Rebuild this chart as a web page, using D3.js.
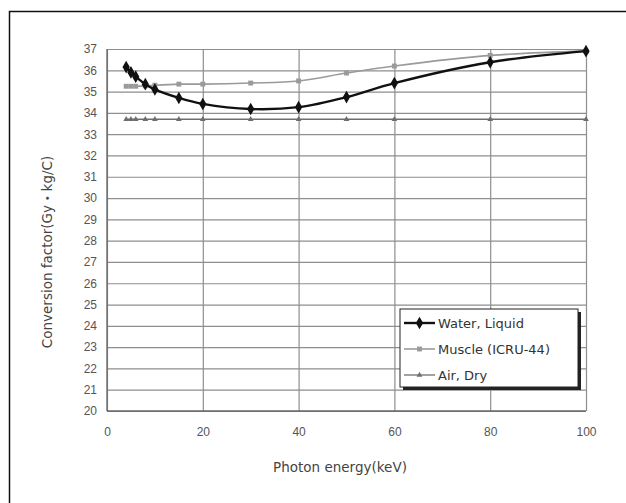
<!DOCTYPE html>
<html>
<head>
<meta charset="utf-8">
<script src="https://cdn.jsdelivr.net/npm/d3@7"></script>
<style>
  body { margin: 0; background: #fff; }
  svg { display: block; font-family: "DejaVu Sans", "Noto Sans CJK JP", sans-serif; }
</style>
</head>
<body>
<div class="chart"></div>
<script>
let w = 626, h = 503;

// photon energies (keV)
let energies = [4, 5, 6, 8, 10, 15, 20, 30, 40, 50, 60, 80, 100];
let waterValues = [36.15, 35.9, 35.7, 35.35, 35.1, 34.7, 34.42, 34.18, 34.27, 34.74, 35.4, 36.38, 36.9];
let muscleValues = [35.25, 35.25, 35.25, 35.27, 35.3, 35.35, 35.35, 35.4, 35.5, 35.87, 36.2, 36.7, 36.9];
let airValues = [33.7, 33.7, 33.7, 33.7, 33.7, 33.7, 33.7, 33.7, 33.7, 33.7, 33.7, 33.7, 33.7];
let seriesNames = ['Water, Liquid', 'Muscle (ICRU-44)', 'Air, Dry'];
let xTicks = [0, 20, 40, 60, 80, 100];
let yTicks = d3.range(20, 38);

let svg = d3.select('.chart').append('svg').attr('width', w).attr('height', h);

// outer frame (only left and top edges visible)
svg.append('path')
  .attr('d', 'M9.5,' + h + 'V11.5H' + (w + 2))
  .attr('fill', 'none')
  .attr('stroke', '#111')
  .attr('stroke-width', 1.5);

let plotL = 107, plotR = 586, plotT = 49, plotB = 411;

let xScale = d3.scaleLinear().domain([0, 100]).range([plotL, plotR]);
let yScale = d3.scaleLinear().domain([20, 37]).range([plotB, plotT]);

/* ==== GRID ==== */
svg.append('g')
  .attr('transform', 'translate(0,' + plotB + ')')
  .call(d3.axisBottom(xScale).tickValues(xTicks).tickSize(-(plotB - plotT)).tickFormat(''))
  .call(g => g.select('.domain').remove())
  .selectAll('line').attr('stroke', '#8e8e8e').attr('stroke-width', 1.2);

svg.append('g')
  .attr('transform', 'translate(' + plotL + ',0)')
  .call(d3.axisLeft(yScale).tickValues(yTicks).tickSize(-(plotR - plotL)).tickFormat(''))
  .call(g => g.select('.domain').remove())
  .selectAll('line').attr('stroke', '#8e8e8e').attr('stroke-width', 1.2);

// axis lines
svg.append('line').attr('x1', plotL).attr('x2', plotL).attr('y1', plotT).attr('y2', plotB)
  .attr('stroke', '#666').attr('stroke-width', 1.3);
svg.append('line').attr('x1', plotL).attr('x2', plotR).attr('y1', plotB).attr('y2', plotB)
  .attr('stroke', '#666').attr('stroke-width', 1.3);

/* ==== TICK LABELS ==== */
svg.append('g')
  .attr('transform', 'translate(0,' + plotB + ')')
  .call(d3.axisBottom(xScale).tickValues(xTicks).tickSize(0).tickPadding(16))
  .call(g => g.select('.domain').remove())
  .selectAll('text')
  .attr('font-size', 12).attr('fill', '#555').style('font-family', 'inherit');

svg.append('g')
  .attr('transform', 'translate(' + plotL + ',0)')
  .call(d3.axisLeft(yScale).tickValues(yTicks).tickSize(0).tickPadding(10))
  .call(g => g.select('.domain').remove())
  .selectAll('text')
  .attr('font-size', 12).attr('fill', '#555').style('font-family', 'inherit');

/* ==== AXIS TITLES ==== */
svg.append('text')
  .text('Photon energy(keV)')
  .attr('x', 340).attr('y', 472)
  .attr('text-anchor', 'middle')
  .attr('font-size', 13.5).attr('fill', '#444');

svg.append('text')
  .text('Conversion factor(Gy・kg/C)')
  .attr('transform', 'translate(52,252) rotate(-90)')
  .attr('text-anchor', 'middle')
  .attr('font-size', 13.5).attr('fill', '#444');

/* ==== SERIES ==== */
function pts(values) {
  return energies.map(function (e, i) { return { x: e, y: values[i] }; });
}

let line = d3.line()
  .x(function (d) { return xScale(d.x); })
  .y(function (d) { return yScale(d.y); })
  .curve(d3.curveCatmullRom.alpha(0.5));

let series = [
  { name: seriesNames[2], data: pts(airValues), color: '#6e6e6e', width: 1.3, symbol: d3.symbolTriangle, size: 14 },
  { name: seriesNames[1], data: pts(muscleValues), color: '#9a9a9a', width: 1.6, symbol: d3.symbolSquare, size: 24 },
  { name: seriesNames[0], data: pts(waterValues), color: '#111', width: 2.4, symbol: d3.symbolDiamond, size: 46 }
];

series.forEach(function (s) {
  svg.append('path')
    .datum(s.data)
    .attr('d', line)
    .attr('fill', 'none')
    .attr('stroke', s.color)
    .attr('stroke-width', s.width);

  svg.append('g').selectAll('path')
    .data(s.data)
    .enter().append('path')
    .attr('d', d3.symbol().type(s.symbol).size(s.size))
    .attr('transform', function (d) { return 'translate(' + xScale(d.x) + ',' + yScale(d.y) + ')'; })
    .attr('fill', s.color);
});

/* ==== LEGEND ==== */
let lg = svg.append('g').attr('transform', 'translate(400,309)');
lg.append('rect').attr('x', 3).attr('y', 3).attr('width', 178).attr('height', 78).attr('fill', '#222');
lg.append('rect').attr('x', 0).attr('y', 0).attr('width', 178).attr('height', 78)
  .attr('fill', '#fff').attr('stroke', '#222').attr('stroke-width', 1);

series.slice().reverse().forEach(function (s, i) {
  let y = 14 + i * 26;
  lg.append('line').attr('x1', 4).attr('x2', 35).attr('y1', y).attr('y2', y)
    .attr('stroke', s.color).attr('stroke-width', s.width);
  lg.append('path')
    .attr('d', d3.symbol().type(s.symbol).size(s.size))
    .attr('transform', 'translate(19.5,' + y + ')')
    .attr('fill', s.color);
  lg.append('text').text(s.name)
    .attr('x', 38).attr('y', y + 5)
    .attr('font-size', 13).attr('fill', '#333');
});
</script>
</body>
</html>
